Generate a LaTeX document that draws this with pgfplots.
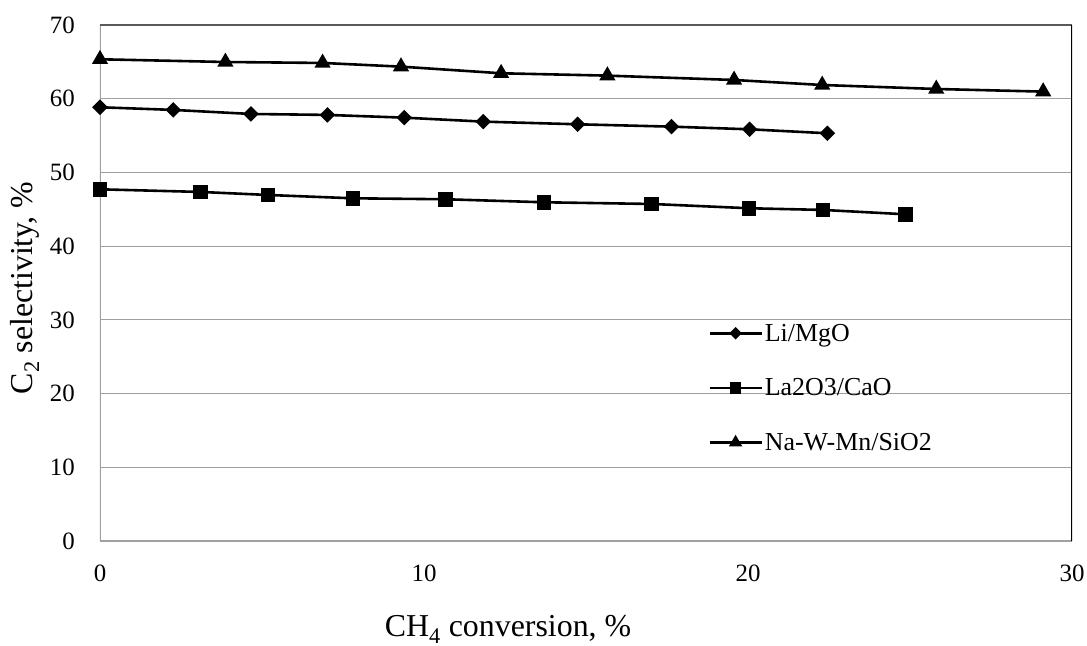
\documentclass[border=0pt]{standalone}
\usepackage{pgfplots}
\pgfplotsset{compat=1.18}
\usepackage{fontspec}
\setmainfont{Liberation Serif}
\definecolor{gridc}{RGB}{160,160,160}
\definecolor{topc}{RGB}{90,90,90}
\begin{document}
\begin{tikzpicture}[x=1bp,y=1bp]
\path[use as bounding box] (-100,-105) rectangle (987,541);
\begin{axis}[
  at={(0,0)}, anchor=south west,
  scale only axis, width=972bp, height=516bp,
  xmin=0, xmax=30, ymin=0, ymax=70,
  xtick={0,10,20,30}, ytick={0,10,...,70},
  ymajorgrids, major grid style={color=gridc, line width=1.1bp},
  axis line style={draw=none},
  major tick style={draw=none},
  /pgf/number format/assume math mode=true,
  ticklabel style={font=\fontsize{25}{29}\selectfont, inner sep=0pt},
  yticklabel style={xshift=-25bp},
  xticklabel style={yshift=-24bp},
  xlabel={CH\textsubscript{4} conversion, \%},
  every axis x label/.style={at={([yshift=-96bp]axis description cs:0.4198,0)}, anchor=base, font=\fontsize{32}{36}\selectfont},
  ylabel={C\textsubscript{2} selectivity, \%},
  every axis y label/.style={at={([xshift=-67bp]axis description cs:0,0.4903)}, rotate=90, anchor=base, font=\fontsize{32}{36}\selectfont},
  legend cell align=left,
  legend style={draw=none, fill=none, font=\fontsize{26}{30}\selectfont,
    at={(axis description cs:0.6256,0.425)}, anchor=north west,
    row sep=32bp, inner sep=0pt},
  legend image code/.code={\draw[mark repeat=2,mark phase=2,/tikz/every mark/.append style={scale=0.75}] plot coordinates {(0bp,0bp) (26bp,0bp) (52bp,0bp)};},
  every axis plot/.append style={line width=2.6bp, black},
]
\draw[gridc, line width=1.2bp] (rel axis cs:0,0) -- (rel axis cs:1,0);
\draw[gridc, line width=1.2bp] (rel axis cs:0,0) -- (rel axis cs:0,1);
\draw[topc, line width=1.6bp] (rel axis cs:0,1) -- (rel axis cs:1,1);
\draw[black, line width=1.4bp] (rel axis cs:1,0) -- (rel axis cs:1,1);
\addplot[mark=square*, mark size=4.2bp, mark options={rotate=45, solid}] coordinates {
(0,58.84) (2.26,58.48) (4.66,57.93) (7.02,57.80) (9.39,57.43) (11.83,56.89) (14.74,56.53) (17.64,56.21) (20.05,55.85) (22.45,55.31)};
\addlegendentry{Li/MgO}
\addplot[mark=square*, mark size=6bp, mark options={solid}] coordinates {
(0,47.71) (3.11,47.35) (5.19,46.94) (7.81,46.49) (10.66,46.36) (13.70,45.95) (17.03,45.72) (20.03,45.14) (22.32,44.91) (24.86,44.32)};
\addlegendentry{La2O3/CaO}
\addplot[mark=triangle*, mark size=6.8bp, mark options={solid}] coordinates {
(0,65.35) (3.87,64.98) (6.87,64.85) (9.29,64.35) (12.38,63.45) (15.66,63.13) (19.57,62.54) (22.29,61.86) (25.81,61.32) (29.11,60.96)};
\addlegendentry{Na-W-Mn/SiO2}
\end{axis}
\end{tikzpicture}
\end{document}
